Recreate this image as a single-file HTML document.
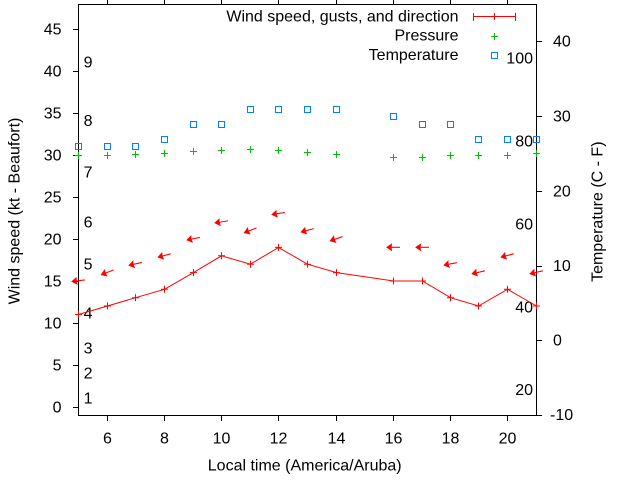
<!DOCTYPE html>
<html><head><meta charset="utf-8"><style>
html,body{margin:0;padding:0;background:#fff;}
svg{display:block;}
text{font-family:"Liberation Sans",Arial,sans-serif;font-size:16px;fill:#000;}
</style></head><body>
<svg width="640" height="480" viewBox="0 0 640 480" xmlns="http://www.w3.org/2000/svg">
<defs>
<path id="pp" d="M-3.5 0h7M0 -3.5v7" stroke="#00c000" stroke-width="1" fill="none"/>
<path id="wp" d="M-3.5 0h7M0 -3.5v7" stroke="#ff0000" stroke-width="1" fill="none"/>
<rect id="sq" x="-3" y="-3" width="6" height="6" stroke="#0080ff" stroke-width="1" fill="none"/>
<g id="ar"><path d="M6.5 0H-3" stroke="#ff0000" stroke-width="1.1" fill="none"/><path d="M-6.5 0L-2 -3L-2.5 0L-2 3Z" fill="#ff0000" stroke="#ff0000" stroke-width="1"/></g>
</defs>
<rect width="640" height="480" fill="#fff"/>

<!-- frame -->
<rect x="78.5" y="4.5" width="458" height="411" fill="none" stroke="#000" stroke-width="1"/>
<g stroke="#000" stroke-width="1" fill="none" shape-rendering="crispEdges">
<path d="M73 29.5h5M73 71.5h5M73 113.5h5M73 155.5h5M73 197.5h5M73 239.5h5M73 281.5h5M73 323.5h5M73 365.5h5M73 407.5h5"/>
<path d="M107.5 416v5M164.5 416v5M221.5 416v5M278.5 416v5M336.5 416v5M393.5 416v5M450.5 416v5M507.5 416v5"/>
<path d="M107.5 0v4M164.5 0v4M221.5 0v4M278.5 0v4M336.5 0v4M393.5 0v4M450.5 0v4M507.5 0v4"/>
<path d="M537 41.5h5M537 116.5h5M537 191.5h5M537 266.5h5M537 340.5h5M537 415.5h5"/>
</g>

<g text-anchor="end">
<text x="61.5" y="34.5">45</text>
<text x="61.5" y="76.5">40</text>
<text x="61.5" y="118.5">35</text>
<text x="61.5" y="160.5">30</text>
<text x="61.5" y="202.5">25</text>
<text x="61.5" y="244.5">20</text>
<text x="61.5" y="286.5">15</text>
<text x="61.5" y="328.5">10</text>
<text x="61.5" y="370.5">5</text>
<text x="61.5" y="412.5">0</text>
</g>
<g text-anchor="middle">
<text x="107.5" y="443.5">6</text>
<text x="164.5" y="443.5">8</text>
<text x="221.5" y="443.5">10</text>
<text x="278.5" y="443.5">12</text>
<text x="336.5" y="443.5">14</text>
<text x="393.5" y="443.5">16</text>
<text x="450.5" y="443.5">18</text>
<text x="507.5" y="443.5">20</text>
</g>
<text x="553" y="46.5">40</text>
<text x="553" y="121.5">30</text>
<text x="553" y="196.5">20</text>
<text x="553" y="271">10</text>
<text x="553" y="345.5">0</text>
<text x="550" y="420">-10</text>

<g text-anchor="end">
<text x="533" y="63.3">100</text>
<text x="533" y="146.7">80</text>
<text x="533" y="229.3">60</text>
<text x="533" y="312.3">40</text>
<text x="533" y="395">20</text>
</g>
<g>
<text x="83.6" y="403.3">1</text>
<text x="83.6" y="378.3">2</text>
<text x="83.6" y="353.3">3</text>
<text x="83.6" y="318.3">4</text>
<text x="83.6" y="269.3">5</text>
<text x="83.6" y="227.3">6</text>
<text x="83.6" y="177.3">7</text>
<text x="83.6" y="126">8</text>
<text x="83.6" y="67.7">9</text>
</g>

<text x="304.7" y="470.7" text-anchor="middle">Local time (America/Aruba)</text>
<text transform="translate(19.3,211) rotate(-90)" text-anchor="middle">Wind speed (kt - Beaufort)</text>
<text transform="translate(602.7,211.7) rotate(-90)" text-anchor="middle">Temperature (C - F)</text>

<g text-anchor="end">
<text x="458.5" y="21.7">Wind speed, gusts, and direction</text>
<text x="458.5" y="40.7">Pressure</text>
<text x="458.5" y="60">Temperature</text>
</g>
<g stroke="#ff0000" stroke-width="1" fill="none" shape-rendering="crispEdges">
<path d="M473 16.5H516M473.5 13v8M515.5 13v8M494.5 13v7"/>
</g>
<use href="#pp" x="494.5" y="36.5"/>
<use href="#sq" x="494.5" y="55.5"/>

<use href="#sq" x="78.5" y="146.5"/>
<use href="#sq" x="107.5" y="146.5"/>
<use href="#sq" x="135.5" y="146.5"/>
<use href="#sq" x="164.5" y="139.5"/>
<use href="#sq" x="193.5" y="124.5"/>
<use href="#sq" x="221.5" y="124.5"/>
<use href="#sq" x="250.5" y="109.5"/>
<use href="#sq" x="278.5" y="109.5"/>
<use href="#sq" x="307.5" y="109.5"/>
<use href="#sq" x="336.5" y="109.5"/>
<use href="#sq" x="393.5" y="116.5"/>
<use href="#sq" x="422.5" y="124.5"/>
<use href="#sq" x="450.5" y="124.5"/>
<use href="#sq" x="478.5" y="139.5"/>
<use href="#sq" x="507.5" y="139.5"/>
<use href="#sq" x="536.5" y="139.5"/>

<use href="#pp" x="78.5" y="155.5"/>
<use href="#pp" x="107.5" y="155.5"/>
<use href="#pp" x="135.5" y="154.5"/>
<use href="#pp" x="164.5" y="153.5"/>
<use href="#pp" x="193.5" y="151.5"/>
<use href="#pp" x="221.5" y="150.5"/>
<use href="#pp" x="250.5" y="149.5"/>
<use href="#pp" x="278.5" y="150.5"/>
<use href="#pp" x="307.5" y="152.5"/>
<use href="#pp" x="336.5" y="154.5"/>
<use href="#pp" x="393.5" y="157.5"/>
<use href="#pp" x="422.5" y="157.5"/>
<use href="#pp" x="450.5" y="155.5"/>
<use href="#pp" x="478.5" y="155.5"/>
<use href="#pp" x="507.5" y="155.5"/>
<use href="#pp" x="536.5" y="153.5"/>

<polyline fill="none" stroke="#ff0000" stroke-width="1" points="78.5,314.5 107.5,306 135.5,297.7 164.5,289.3 193.5,272.6 221.5,255.8 250.5,264.2 278.5,247.4 307.5,264.2 336.5,272.6 393.5,281 422.5,281 450.5,297.7 478.5,306 507.5,289.3 536.5,306"/>
<use href="#wp" x="78.5" y="314.5"/>
<use href="#wp" x="107.5" y="306"/>
<use href="#wp" x="135.5" y="297.7"/>
<use href="#wp" x="164.5" y="289.3"/>
<use href="#wp" x="193.5" y="272.6"/>
<use href="#wp" x="221.5" y="255.8"/>
<use href="#wp" x="250.5" y="264.2"/>
<use href="#wp" x="278.5" y="247.4"/>
<use href="#wp" x="307.5" y="264.2"/>
<use href="#wp" x="336.5" y="272.6"/>
<use href="#wp" x="393.5" y="281"/>
<use href="#wp" x="422.5" y="281"/>
<use href="#wp" x="450.5" y="297.7"/>
<use href="#wp" x="478.5" y="306"/>
<use href="#wp" x="507.5" y="289.3"/>
<use href="#wp" x="536.5" y="306"/>

<use href="#ar" transform="translate(78.5,280.7) rotate(-7)"/>
<use href="#ar" transform="translate(107.5,272.3) rotate(-21)"/>
<use href="#ar" transform="translate(135.5,263.9) rotate(-13)"/>
<use href="#ar" transform="translate(164.5,255.5) rotate(-15)"/>
<use href="#ar" transform="translate(193.5,238.7) rotate(-11)"/>
<use href="#ar" transform="translate(221.5,221.9) rotate(-9)"/>
<use href="#ar" transform="translate(250.5,230.3) rotate(-21)"/>
<use href="#ar" transform="translate(278.5,213.5) rotate(-9)"/>
<use href="#ar" transform="translate(307.5,230.3) rotate(-15)"/>
<use href="#ar" transform="translate(336.5,238.7) rotate(-19)"/>
<use href="#ar" transform="translate(393.5,247.3) rotate(0)"/>
<use href="#ar" transform="translate(422.5,247.3) rotate(0)"/>
<use href="#ar" transform="translate(450.5,263.9) rotate(-11)"/>
<use href="#ar" transform="translate(478.5,272.3) rotate(-13)"/>
<use href="#ar" transform="translate(507.5,255.5) rotate(-15)"/>
<use href="#ar" transform="translate(536.5,272.3) rotate(-13)"/>
</svg>
</body></html>
